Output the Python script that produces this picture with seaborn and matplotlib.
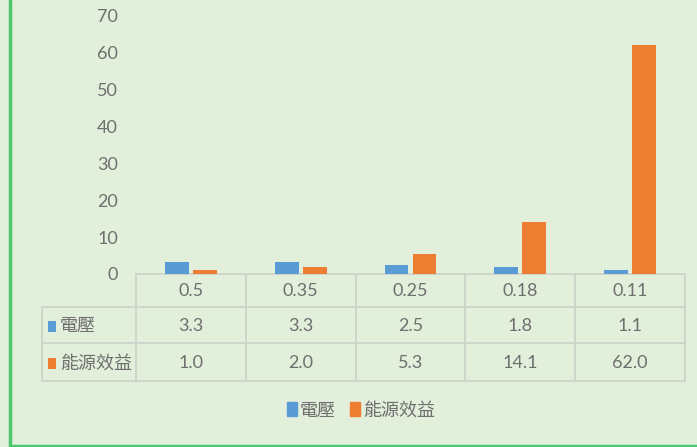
import matplotlib
matplotlib.use("Agg")
import matplotlib.pyplot as plt
import seaborn as sns
import pandas as pd
from matplotlib.patches import Patch

# data
categories = ["0.5", "0.35", "0.25", "0.18", "0.11"]
voltage = [3.3, 3.3, 2.5, 1.8, 1.1]
efficiency = [1.0, 2.0, 5.3, 14.1, 62.0]
series_names = ["電壓", "能源效益"]
y_ticks = [0, 10, 20, 30, 40, 50, 60, 70]

BG = "#e2efda"
BLUE = "#5b9bd5"
ORANGE = "#ed7d31"
TEXT = "#6f6f6f"
LINE = "#cdd3ca"
GREEN = "#4cc86e"
FS = 13

df = pd.DataFrame({
    "cat": categories * 2,
    "series": [series_names[0]] * len(categories) + [series_names[1]] * len(categories),
    "value": voltage + efficiency,
})

sns.set_style("white")
plt.rcParams["font.family"] = ["Lato", "Noto Sans CJK TC", "DejaVu Sans"]

W, H = 697, 447
fig = plt.figure(figsize=(W / 100, H / 100), dpi=100, facecolor=BG)

# overlay axes in pixel coordinates for the data table and frame
ov = fig.add_axes([0, 0, 1, 1], zorder=0)
ov.set_xlim(0, W)
ov.set_ylim(H, 0)
ov.axis("off")
ov.set_facecolor("none")

x0, x1 = 136, 685
y_base, y_top = 274, 16
ax = fig.add_axes([x0 / W, 1 - y_base / H, (x1 - x0) / W, (y_base - y_top) / H], zorder=1)
ax.set_facecolor("none")
sns.barplot(data=df, x="cat", y="value", hue="series", palette=[BLUE, ORANGE],
            saturation=1, width=0.51, gap=0.143, linewidth=0, ax=ax, legend=False)
ax.set_xlim(-0.5, len(categories) - 0.5)
ax.set_ylim(0, 70)
ax.set_yticks(y_ticks)
ax.set_xticks([])
ax.set_xlabel("")
ax.set_ylabel("")
ax.tick_params(axis="y", length=0, pad=13, labelcolor=TEXT, labelsize=FS)
for s in ax.spines.values():
    s.set_visible(False)

# data table
col_w = (x1 - x0) / len(categories)
rows_y = [274, 307, 343, 381]
left = 42
ov.plot([x0, x1], [rows_y[0], rows_y[0]], color=LINE, lw=1.3)
for yy in rows_y[1:]:
    ov.plot([left, x1], [yy, yy], color=LINE, lw=1.3)
ov.plot([left, left], [rows_y[1], rows_y[3]], color=LINE, lw=1.3)
for i in range(len(categories) + 1):
    xx = x0 + i * col_w
    ov.plot([xx, xx], [rows_y[0], rows_y[3]], color=LINE, lw=1.3)

centers = [(rows_y[i] + rows_y[i + 1]) / 2 + 1 for i in range(3)]
for i, c in enumerate(categories):
    cx = x0 + (i + 0.5) * col_w
    ov.text(cx, centers[0], c, ha="center", va="center", color=TEXT, fontsize=FS)
    ov.text(cx, centers[1], f"{voltage[i]:.1f}", ha="center", va="center", color=TEXT, fontsize=FS)
    ov.text(cx, centers[2], f"{efficiency[i]:.1f}", ha="center", va="center", color=TEXT, fontsize=FS)

for name, col, cy in [(series_names[0], BLUE, centers[1]), (series_names[1], ORANGE, centers[2])]:
    ov.add_patch(plt.Rectangle((48, cy - 5), 8, 11, color=col, lw=0))
    ov.text(60, cy, name, ha="left", va="center", color=TEXT, fontsize=FS)

# legend
handles = [Patch(color=BLUE, label=series_names[0]), Patch(color=ORANGE, label=series_names[1])]
leg = fig.legend(handles=handles, loc="center", bbox_to_anchor=(361 / W, 1 - 410 / H), ncol=2,
                 frameon=False, handlelength=0.55, handleheight=0.85, handletextpad=0.15,
                 columnspacing=0.8, fontsize=FS)
for t in leg.get_texts():
    t.set_color(TEXT)

# green frame lines
ov.plot([10, 10], [0, H], color=GREEN, lw=2.5)
ov.plot([10, W], [446, 446], color=GREEN, lw=2.5)

fig.savefig("out.png", dpi=100, facecolor=BG)
